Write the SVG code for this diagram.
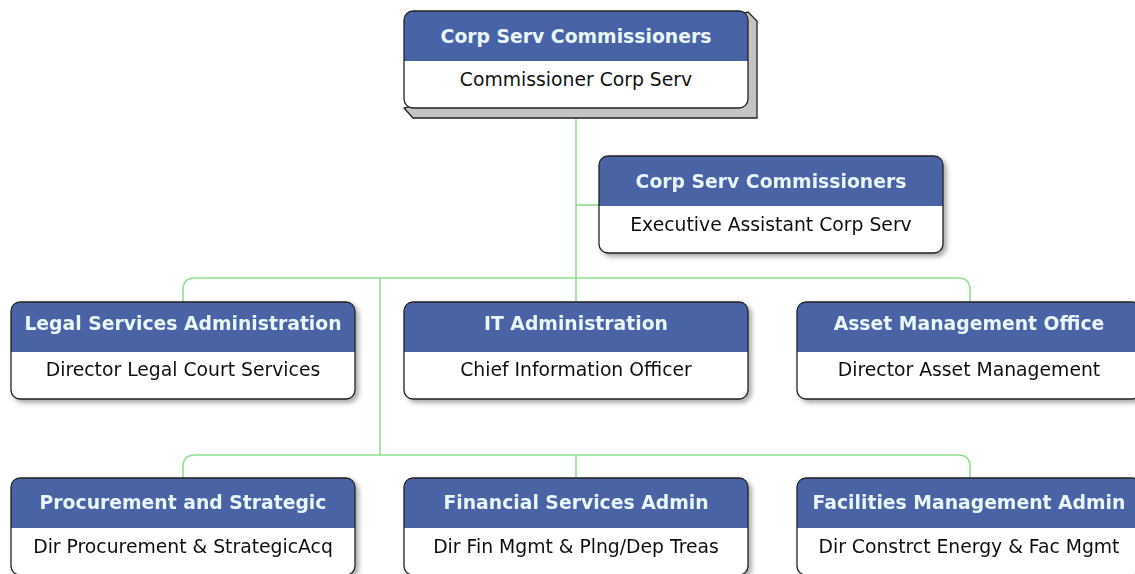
<svg xmlns="http://www.w3.org/2000/svg" width="1135" height="574" viewBox="0 0 1135 574">
<style>
.hdr{fill:#4863a5}
.ht{font-family:"DejaVu Sans",Verdana,sans-serif;font-weight:bold;font-size:18.8px;fill:#eaf6ff;text-anchor:middle}
.bt{font-family:"DejaVu Sans",Verdana,sans-serif;font-size:18.8px;fill:#111;text-anchor:middle}
.c{fill:none;stroke:#8fe08f;stroke-width:1.6}
</style>
<defs>
<filter id="sh" x="-5%" y="-10%" width="115%" height="130%">
<feDropShadow dx="3" dy="3" stdDeviation="2.5" flood-color="#000" flood-opacity="0.35"/>
</filter>
<clipPath id="cp"><rect x="0" y="0" width="344" height="97" rx="9"/></clipPath>
<g id="card">
<rect x="0" y="0" width="344" height="97" rx="9" fill="#fff"/>
<rect x="0" y="0" width="344" height="50" class="hdr" clip-path="url(#cp)"/>
<rect x="0" y="0" width="344" height="97" rx="9" fill="none" stroke="#222" stroke-width="1.3"/>
</g>
</defs>
<g id="connectors">
<path class="c" d="M576 109V302"/>
<path class="c" d="M576 205H599"/>
<path class="c" d="M183 302V290Q183 278 195 278H958Q970 278 970 290V302"/>
<path class="c" d="M380 278V455"/>
<path class="c" d="M183 478V467Q183 455 195 455H958Q970 455 970 467V478"/>
<path class="c" d="M576 455V478"/>
</g>
<g id="n1">
<path d="M748 12L757 21V118H413L404 108Z" fill="#c4c4c4" stroke="#222" stroke-width="1.3"/>
<use href="#card" x="404" y="11"/>
<text class="ht" x="576" y="43">Corp Serv Commissioners</text>
<text class="bt" x="576" y="86">Commissioner Corp Serv</text>
</g>
<g id="n2" filter="url(#sh)">
<use href="#card" x="599" y="156"/>
<text class="ht" x="771" y="188">Corp Serv Commissioners</text>
<text class="bt" x="771" y="231">Executive Assistant Corp Serv</text>
</g>
<g id="n3" filter="url(#sh)">
<use href="#card" x="11" y="302"/>
<text class="ht" x="183" y="330">Legal Services Administration</text>
<text class="bt" x="183" y="376">Director Legal Court Services</text>
</g>
<g id="n4" filter="url(#sh)">
<use href="#card" x="404" y="302"/>
<text class="ht" x="576" y="330">IT Administration</text>
<text class="bt" x="576" y="376">Chief Information Officer</text>
</g>
<g id="n5" filter="url(#sh)">
<use href="#card" x="797" y="302"/>
<text class="ht" x="969" y="330">Asset Management Office</text>
<text class="bt" x="969" y="376">Director Asset Management</text>
</g>
<g id="n6" filter="url(#sh)">
<use href="#card" x="11" y="478"/>
<text class="ht" x="183" y="509">Procurement and Strategic</text>
<text class="bt" x="183" y="553">Dir Procurement &amp; StrategicAcq</text>
</g>
<g id="n7" filter="url(#sh)">
<use href="#card" x="404" y="478"/>
<text class="ht" x="576" y="509">Financial Services Admin</text>
<text class="bt" x="576" y="553">Dir Fin Mgmt &amp; Plng/Dep Treas</text>
</g>
<g id="n8" filter="url(#sh)">
<use href="#card" x="797" y="478"/>
<text class="ht" x="969" y="509">Facilities Management Admin</text>
<text class="bt" x="969" y="553">Dir Constrct Energy &amp; Fac Mgmt</text>
</g>
</svg>
